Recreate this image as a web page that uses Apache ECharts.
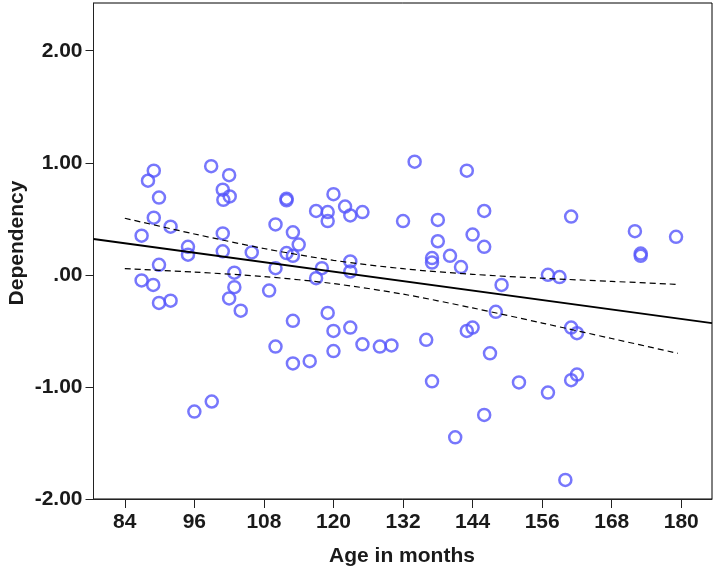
<!DOCTYPE html>
<html>
<head>
<meta charset="utf-8">
<style>
  html, body { margin: 0; padding: 0; background: #fff; }
  #chart { width: 716px; height: 575px; }
</style>
<script src="https://cdn.jsdelivr.net/npm/echarts@6/dist/echarts.min.js"></script>
</head>
<body>
<div id="chart"></div>
<script>
// Age in months (x) and Dependency (y) for each participant
var ageMonths = [
  89.0, 88.0, 89.9, 89.0, 86.9, 91.9, 98.9, 102.0, 100.9, 101.0,
  102.1, 100.9, 94.9, 94.9, 100.9, 105.9, 110.0, 111.9, 111.9, 113.0,
  114.0, 111.9, 113.0, 89.9, 86.9, 88.9, 89.9, 91.9, 102.9, 102.9,
  102.0, 104.0, 108.9, 110.0, 113.0, 134.0, 143.0, 120.0, 117.0, 119.0,
  119.0, 122.0, 122.9, 125.0, 132.0, 138.0, 146.0, 138.0, 144.0, 146.0,
  137.0, 137.0, 140.1, 142.0, 122.9, 122.9, 118.0, 117.0, 149.0, 148.0,
  119.0, 120.0, 122.9, 143.0, 144.0, 161.0, 172.0, 179.1, 173.0, 173.0,
  157.0, 159.0, 161.0, 162.0, 110.0, 113.0, 115.9, 120.0, 125.0, 128.0,
  130.0, 96.0, 99.0, 136.0, 147.0, 137.0, 152.0, 157.0, 161.0, 162.0,
  146.0, 141.0, 160.0
];
var dependency = [
  0.93, 0.84, 0.69, 0.51, 0.35, 0.43, 0.97, 0.89, 0.76, 0.67,
  0.70, 0.37, 0.25, 0.18, 0.21, 0.20, 0.45, 0.68, 0.665, 0.38,
  0.27, 0.195, 0.17, 0.09, -0.05, -0.09, -0.25, -0.23, 0.02, -0.11,
  -0.21, -0.32, -0.14, 0.06, -0.41, 1.01, 0.93, 0.72, 0.57, 0.56,
  0.48, 0.61, 0.53, 0.56, 0.48, 0.49, 0.57, 0.30, 0.36, 0.25,
  0.15, 0.11, 0.17, 0.07, 0.12, 0.03, 0.06, -0.03, -0.09, -0.33,
  -0.34, -0.50, -0.47, -0.50, -0.47, 0.52, 0.39, 0.34, 0.19, 0.17,
  0.00, -0.02, -0.47, -0.52, -0.64, -0.79, -0.77, -0.68, -0.62, -0.64,
  -0.63, -1.22, -1.13, -0.58, -0.70, -0.95, -0.96, -1.05, -0.94, -0.89,
  -1.25, -1.45, -1.83
];
// Fit line end points
var fitX = [78.6, 185.3];
var fitY = [0.32, -0.43];
// Confidence band
var bandX = [84, 96, 108, 120, 132, 144, 156, 168, 179.4];
var bandUpper = [0.505, 0.365, 0.235, 0.13, 0.055, 0.005, -0.03, -0.058, -0.085];
var bandLower = [0.055, 0.025, -0.015, -0.078, -0.172, -0.295, -0.43, -0.568, -0.70];
// Tick labels
var xTicks = [84, 96, 108, 120, 132, 144, 156, 168, 180];
var yTicks = [-2, -1, 0, 1, 2];

function zip(a, b) { return a.map(function (v, i) { return [v, b[i]]; }); }

var FONT = 'Liberation Sans, Arial, sans-serif';
var chart = echarts.init(document.getElementById('chart'), null, { renderer: 'canvas' });
chart.setOption({
  animation: false,
  backgroundColor: '#ffffff',
  grid: { left: 93.5, right: 4, top: 3, bottom: 76, show: true, borderColor: '#000', borderWidth: 1, backgroundColor: 'transparent' },
  xAxis: {
    type: 'value', min: 78.6, max: 185.3,
    axisLine: { show: true, onZero: false, lineStyle: { color: '#222', width: 1 } },
    axisTick: { show: true, length: 9, customValues: xTicks, lineStyle: { color: '#222' } },
    axisLabel: { customValues: xTicks, margin: 13, color: '#1a1a1a', fontFamily: FONT, fontWeight: 'bold', fontSize: 21 },
    splitLine: { show: false }
  },
  yAxis: {
    type: 'value', min: -2, max: 2.426, interval: 1,
    axisLine: { show: true, onZero: false, lineStyle: { color: '#222', width: 1 } },
    axisTick: { show: true, length: 8, customValues: yTicks, lineStyle: { color: '#222' } },
    axisLabel: {
      customValues: yTicks, margin: 11, color: '#1a1a1a', fontFamily: FONT, fontWeight: 'bold', fontSize: 21,
      formatter: function (v) { return v === 0 ? '.00' : v.toFixed(2); }
    },
    splitLine: { show: false }
  },
  graphic: [
    { type: 'text', x: 17, y: 243, rotation: Math.PI / 2,
      style: { text: 'Dependency', fill: '#1a1a1a', font: 'bold 21px ' + FONT, align: 'center', verticalAlign: 'middle' } },
    { type: 'text', x: 402, y: 556,
      style: { text: 'Age in months', fill: '#1a1a1a', font: 'bold 21px ' + FONT, align: 'center', verticalAlign: 'middle' } }
  ],
  series: [
    {
      type: 'scatter', data: zip(ageMonths, dependency), symbol: 'circle', symbolSize: 12, z: 2,
      itemStyle: { color: 'rgba(0,0,0,0)', borderColor: '#5555fb', borderWidth: 2.5 }
    },
    {
      type: 'line', data: zip(fitX, fitY), symbol: 'none', z: 3,
      lineStyle: { color: '#000', width: 1.8 }
    },
    {
      type: 'line', data: zip(bandX, bandUpper), symbol: 'none', smooth: 0.3, z: 3,
      lineStyle: { color: '#000', width: 1.2, type: [6, 4] }
    },
    {
      type: 'line', data: zip(bandX, bandLower), symbol: 'none', smooth: 0.3, z: 3,
      lineStyle: { color: '#000', width: 1.2, type: [6, 4] }
    }
  ]
});
</script>
</body>
</html>
